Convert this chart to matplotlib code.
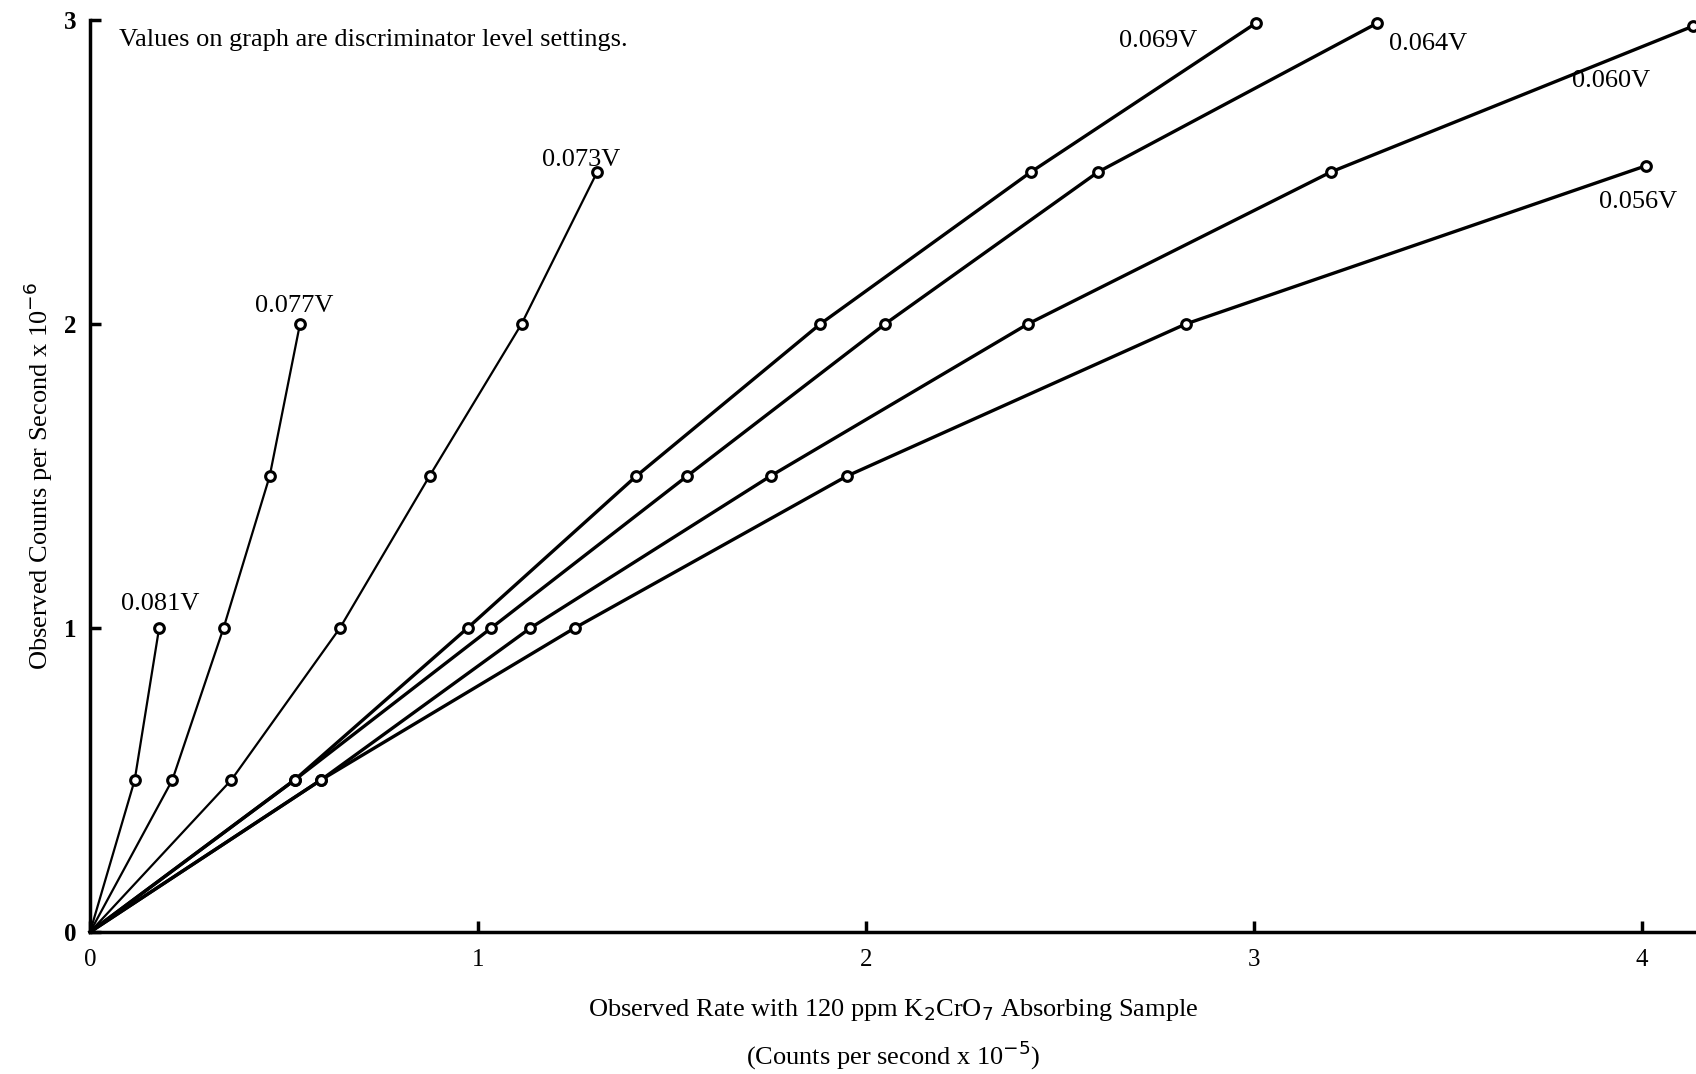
import matplotlib.pyplot as plt

# discriminator settings and the points (x: counts/s x 1e-5, y: counts/s x 1e-6)
v081_x = [0, 0.115, 0.178]
v081_y = [0, 0.5, 1.0]
v077_x = [0, 0.212, 0.344, 0.463, 0.541]
v077_y = [0, 0.5, 1.0, 1.5, 2.0]
v073_x = [0, 0.364, 0.644, 0.875, 1.112, 1.307]
v073_y = [0, 0.5, 1.0, 1.5, 2.0, 2.5]
v069_x = [0, 0.527, 0.973, 1.408, 1.882, 2.425, 3.005]
v069_y = [0, 0.5, 1.0, 1.5, 2.0, 2.5, 2.99]
v064_x = [0, 0.527, 1.034, 1.539, 2.049, 2.598, 3.318]
v064_y = [0, 0.5, 1.0, 1.5, 2.0, 2.5, 2.99]
v060_x = [0, 0.595, 1.135, 1.754, 2.417, 3.198, 4.132]
v060_y = [0, 0.5, 1.0, 1.5, 2.0, 2.5, 2.98]
v056_x = [0, 0.595, 1.249, 1.951, 2.824, 4.009]
v056_y = [0, 0.5, 1.0, 1.5, 2.0, 2.52]

labels = ["0.081V", "0.077V", "0.073V", "0.069V", "0.064V", "0.060V", "0.056V"]
label_x = [0.18, 0.527, 1.266, 2.752, 3.449, 3.92, 3.99]
label_y = [1.08, 2.06, 2.54, 2.93, 2.92, 2.80, 2.40]

series = [(v081_x, v081_y), (v077_x, v077_y), (v073_x, v073_y), (v069_x, v069_y),
          (v064_x, v064_y), (v060_x, v060_y), (v056_x, v056_y)]

plt.rcParams["font.family"] = ["Liberation Serif", "DejaVu Serif"]

fig = plt.figure(figsize=(16.96, 10.74), dpi=100)
ax = fig.add_axes([0.0531, 0.1322, 0.9469, 0.8492])

for i, (x, y) in enumerate(series):
    lw = 1.6 if i < 3 else 2.4
    ax.plot(x, y, color="black", lw=lw, marker="o", markevery=slice(1, None),
            markersize=7, markerfacecolor="white", markeredgecolor="black",
            markeredgewidth=2.2, clip_on=False, zorder=3)

for lab, lx, ly in zip(labels, label_x, label_y):
    ax.text(lx, ly, lab, fontsize=19, ha="center", va="center")

ax.text(0.075, 2.935, "Values on graph are discriminator level settings.",
        fontsize=19, ha="left", va="center")

ax.set_xlim(0, 4.139)
ax.set_ylim(0, 3)
for s in ["top", "right"]:
    ax.spines[s].set_visible(False)
for s in ["left", "bottom"]:
    ax.spines[s].set_linewidth(2.5)

ax.set_xticks([0, 1, 2, 3, 4])
ax.set_yticks([0, 1, 2, 3])
ax.tick_params(direction="in", length=8, width=2.5, labelsize=18, pad=12)
ax.tick_params(axis="y", pad=10)
for t in ax.get_yticklabels():
    t.set_fontweight("bold")

ax.set_ylabel("Observed Counts per Second x 10$^{-6}$", fontsize=19, labelpad=6)
ax.text(0.5, -0.085, "Observed Rate with 120 ppm K$_2$CrO$_7$ Absorbing Sample",
        transform=ax.transAxes, fontsize=19, ha="center", va="center")
ax.text(0.5, -0.135, "(Counts per second x 10$^{-5}$)",
        transform=ax.transAxes, fontsize=19, ha="center", va="center")

fig.savefig("out.png", dpi=100)
